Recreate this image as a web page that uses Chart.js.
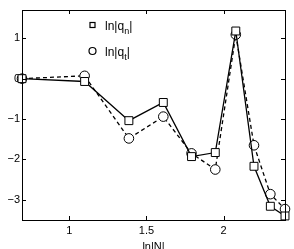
<!DOCTYPE html>
<html><head><meta charset="utf-8">
<script src="https://cdn.jsdelivr.net/npm/chart.js@4.4.1/dist/chart.umd.min.js"></script>
<style>html,body{margin:0;padding:0;background:#fff;}#wrap{width:294px;height:249px;}</style>
</head><body><div id="wrap"><canvas id="c" width="294" height="249"></canvas></div>
<script>
const lnN = [0.693, 1.099, 1.386, 1.609, 1.792, 1.946, 2.079, 2.197, 2.303, 2.398];
const lnQn = [0, -0.07, -1.04, -0.59, -1.93, -1.83, 1.18, -2.17, -3.16, -3.40];
const lnQt = [0, 0.07, -1.48, -0.94, -1.85, -2.25, 1.09, -1.65, -2.86, -3.23];
const xTicks = [1, 1.5, 2];
const yTicks = [-3, -2, -1, 0, 1];
const legendLabels = [['ln|q', 'n', '|'], ['ln|q', 't', '|']];

const FONT = 'Liberation Sans, Arial, Helvetica, sans-serif';
const fmt = v => (v < 0 ? '\u2212' + Math.abs(v) : String(v));

const boxPlugin = {
  id: 'box',
  afterDraw(chart) {
    const {ctx, chartArea: a, scales: {x, y}} = chart;
    ctx.save();
    ctx.strokeStyle = '#000';
    ctx.lineWidth = 1;
    ctx.strokeRect(Math.round(a.left) + 0.5, Math.round(a.top) + 0.5, Math.round(a.right - a.left), Math.round(a.bottom - a.top));
    const L = 4;
    ctx.beginPath();
    xTicks.forEach(v => {
      const px = Math.round(x.getPixelForValue(v)) + 0.5;
      ctx.moveTo(px, a.bottom); ctx.lineTo(px, a.bottom - L);
      ctx.moveTo(px, a.top); ctx.lineTo(px, a.top + L);
    });
    yTicks.forEach(v => {
      const py = Math.round(y.getPixelForValue(v)) + 0.5;
      ctx.moveTo(a.left, py); ctx.lineTo(a.left + L, py);
      ctx.moveTo(a.right, py); ctx.lineTo(a.right - L, py);
    });
    ctx.stroke();
    // legend
    const lx = 92.5, ly = [25, 51];
    ctx.lineWidth = 1.2;
    ctx.strokeRect(lx - 2.5, ly[0] - 2.5, 5, 5);
    ctx.beginPath(); ctx.arc(lx, ly[1], 3.5, 0, Math.PI * 2); ctx.stroke();
    ctx.fillStyle = '#000';
    ctx.textBaseline = 'alphabetic';
    legendLabels.forEach((parts, i) => {
      let tx = 105;
      const base = ly[i] + 4.5;
      ctx.font = '12px ' + FONT;
      ctx.fillText(parts[0], tx, base); tx += ctx.measureText(parts[0]).width;
      ctx.font = '9px ' + FONT;
      ctx.fillText(parts[1], tx, base + 4); tx += ctx.measureText(parts[1]).width;
      ctx.font = '12px ' + FONT;
      ctx.fillText(parts[2], tx, base);
    });
    ctx.restore();
  }
};

new Chart(document.getElementById('c'), {
  type: 'line',
  data: {
    datasets: [
      {
        label: 'ln|qn|',
        data: lnN.map((v, i) => ({x: v, y: lnQn[i]})),
        borderColor: '#000', borderWidth: 1.3,
        pointStyle: 'rect', pointRadius: 5.6, pointBorderWidth: 1,
        pointBorderColor: '#000', pointBackgroundColor: '#fff', tension: 0
      },
      {
        label: 'ln|qt|',
        data: lnN.map((v, i) => ({x: v, y: lnQt[i]})),
        borderColor: '#000', borderWidth: 1.3, borderDash: [4, 3],
        pointStyle: 'circle', pointRadius: 4.8, pointBorderWidth: 1,
        pointBorderColor: '#000', pointBackgroundColor: '#fff', tension: 0
      }
    ]
  },
  options: {
    responsive: false, animation: false, maintainAspectRatio: false,
    clip: false,
    layout: {padding: {left: 0, right: 9, top: 10, bottom: 0}},
    plugins: {legend: {display: false}, tooltip: {enabled: false}},
    scales: {
      x: {
        type: 'linear', min: 0.693, max: 2.398,
        afterBuildTicks: s => { s.ticks = xTicks.map(v => ({value: v})); },
        afterFit: s => { s.height = 29; },
        grid: {display: false, drawTicks: false, tickLength: 0}, border: {display: false},
        ticks: {color: '#000', font: {family: FONT, size: 11}, padding: 4, maxRotation: 0, callback: v => fmt(v)},
        title: {display: true, text: 'ln|N|', color: '#000', font: {family: FONT, size: 11}, padding: {top: 0, bottom: -5}}
      },
      y: {
        type: 'linear', min: -3.5, max: 1.7,
        afterBuildTicks: s => { s.ticks = yTicks.map(v => ({value: v})); },
        afterFit: s => { s.width = 22; },
        grid: {display: false, drawTicks: false, tickLength: 0}, border: {display: false},
        ticks: {color: '#000', font: {family: FONT, size: 11}, padding: 2, callback: v => fmt(v)}
      }
    }
  },
  plugins: [boxPlugin]
});
</script></body></html>
